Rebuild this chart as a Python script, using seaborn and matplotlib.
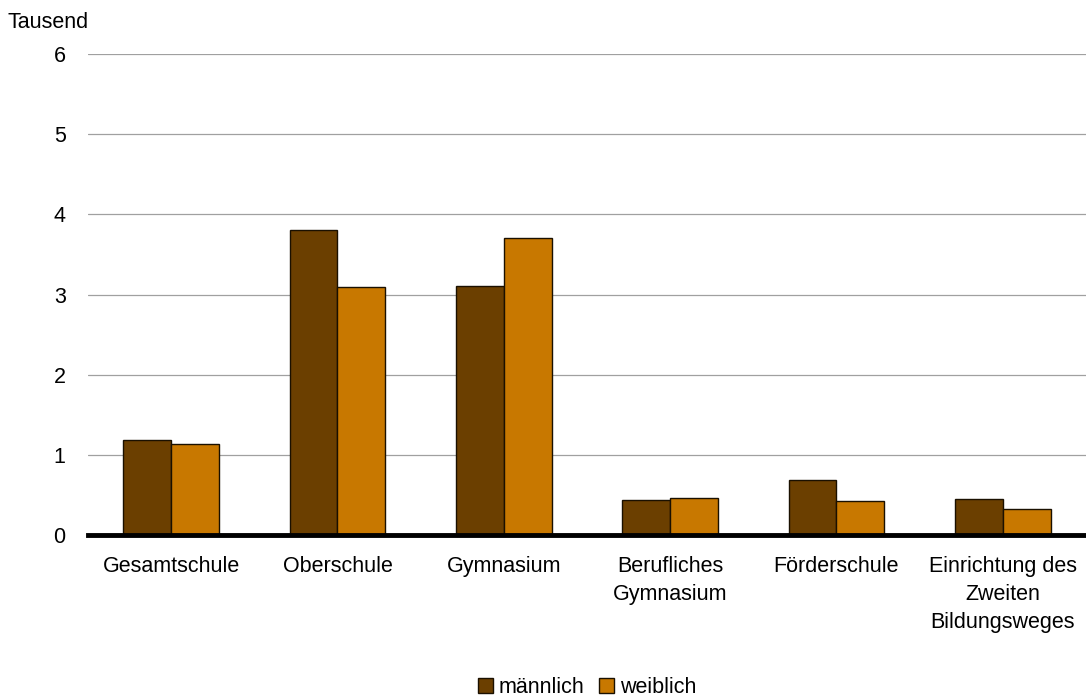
import pandas as pd
import seaborn as sns
import matplotlib.pyplot as plt

# data (Tausend)
schularten = ['Gesamtschule', 'Oberschule', 'Gymnasium', 'Berufliches\nGymnasium',
              'Förderschule', 'Einrichtung des\nZweiten\nBildungsweges']
maennlich = [1.18, 3.81, 3.11, 0.44, 0.69, 0.445]
weiblich = [1.13, 3.09, 3.70, 0.465, 0.43, 0.33]

df = pd.DataFrame({
    'schulart': schularten * 2,
    'wert': maennlich + weiblich,
    'geschlecht': ['männlich'] * len(schularten) + ['weiblich'] * len(schularten),
})

sns.set_style('white')
plt.rcParams['font.family'] = ['Liberation Sans', 'DejaVu Sans']
plt.rcParams['text.color'] = 'black'

fs = 15.5
fig = plt.figure(figsize=(10.86, 6.98), dpi=100)
ax = fig.add_axes([0.081, 0.2335, 0.919, 0.689])

sns.barplot(data=df, x='schulart', y='wert', hue='geschlecht',
            palette=['#6b3f00', '#c87800'], saturation=1, width=0.575,
            edgecolor='#1a1000', linewidth=1.0, ax=ax)

ax.set_ylim(0, 6)
ax.set_yticks(range(7))
ax.yaxis.grid(True, color='#a0a0a0', linewidth=0.9)
ax.set_axisbelow(True)
for s in ['top', 'right', 'left']:
    ax.spines[s].set_visible(False)
ax.spines['bottom'].set_color('black')
ax.spines['bottom'].set_linewidth(3.5)
ax.tick_params(axis='both', length=0, labelsize=fs, labelcolor='black')
ax.tick_params(axis='y', pad=16)
ax.tick_params(axis='x', pad=15)
for t in ax.get_xticklabels():
    t.set_linespacing(1.45)
ax.set_xlabel('')
ax.set_ylabel('')
ax.set_xlim(-0.5, 5.5)

fig.text(0.007, 0.968, 'Tausend', fontsize=fs, ha='left', va='center')

ax.legend(loc='center', bbox_to_anchor=(0.5, -0.318), ncol=2, frameon=False,
          fontsize=fs, handlelength=0.7, handleheight=0.7, handletextpad=0.25,
          columnspacing=0.7)

fig.savefig('out.png', dpi=100)
